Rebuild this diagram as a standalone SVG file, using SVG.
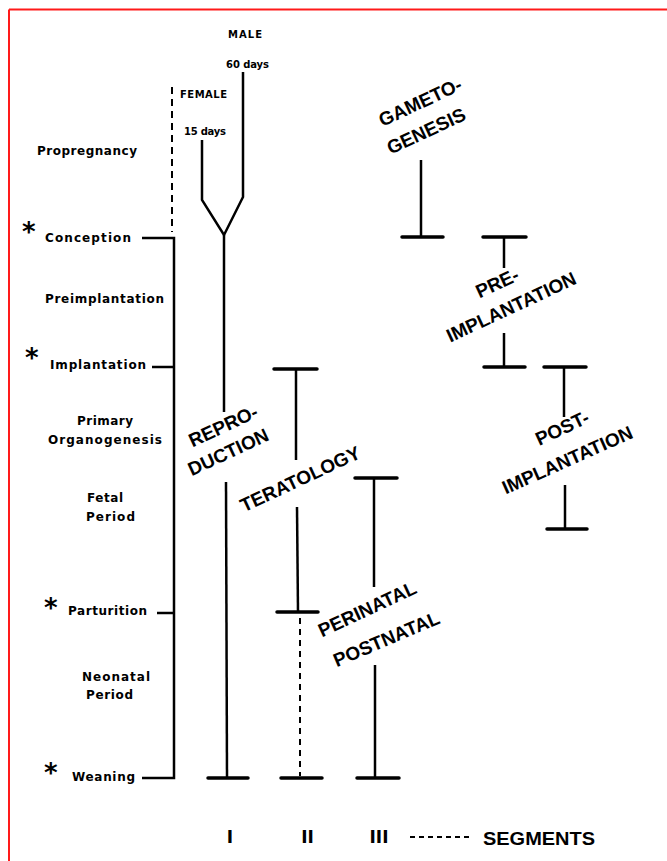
<svg xmlns="http://www.w3.org/2000/svg" width="667" height="861" viewBox="0 0 667 861">
<style>
.ln{stroke:#000;stroke-width:2.5;fill:none;stroke-linecap:butt}
.bar{stroke:#000;stroke-width:3.5;fill:none;stroke-linecap:round}
.dsh{stroke:#000;stroke-width:2;fill:none;stroke-dasharray:7 5}
.s{font-family:"DejaVu Sans",sans-serif;font-weight:bold;font-size:12px;fill:#000}
.t{font-family:"DejaVu Sans",sans-serif;font-weight:bold;font-size:10px;fill:#000}
.big{font-family:"Liberation Sans",Arial,sans-serif;font-weight:bold;font-size:19px;fill:#000}
.ast{font-family:"DejaVu Sans",sans-serif;font-weight:bold;font-size:26px;fill:#000}
.rom{font-family:"DejaVu Sans",sans-serif;font-weight:bold;font-size:17px;fill:#000}
</style>
<rect x="0" y="0" width="667" height="861" fill="#fff"/>
<g id="frame">
<line x1="9" y1="9.5" x2="667" y2="9.5" stroke="#ff1a1a" stroke-width="2"/>
<line x1="9" y1="9.5" x2="9" y2="861" stroke="#ff1a1a" stroke-width="2"/>
</g>
<g id="timeline-labels">
<text class="s" x="37" y="155" textLength="100" lengthAdjust="spacing">Propregnancy</text>
<text class="ast" x="22" y="241">*</text>
<text class="s" x="45" y="242" textLength="86" lengthAdjust="spacing">Conception</text>
<text class="s" x="45" y="303" textLength="119" lengthAdjust="spacing">Preimplantation</text>
<text class="ast" x="25" y="367">*</text>
<text class="s" x="50" y="369" textLength="96" lengthAdjust="spacing">Implantation</text>
<text class="s" x="77" y="425" textLength="56" lengthAdjust="spacing">Primary</text>
<text class="s" x="48" y="444" textLength="114" lengthAdjust="spacing">Organogenesis</text>
<text class="s" x="87" y="502" textLength="36" lengthAdjust="spacing">Fetal</text>
<text class="s" x="86" y="521" textLength="49" lengthAdjust="spacing">Period</text>
<text class="ast" x="44" y="617">*</text>
<text class="s" x="68" y="615" textLength="79" lengthAdjust="spacing">Parturition</text>
<text class="s" x="82" y="681" textLength="68" lengthAdjust="spacing">Neonatal</text>
<text class="s" x="86" y="699" textLength="47" lengthAdjust="spacing">Period</text>
<text class="ast" x="44" y="782">*</text>
<text class="s" x="72" y="781" textLength="63" lengthAdjust="spacing">Weaning</text>
</g>
<g id="connectors">
<line class="dsh" x1="172" y1="87" x2="172" y2="232"/>
<polyline class="ln" points="142,238 174,238 174,778 142,778"/>
<line class="ln" x1="152" y1="367" x2="174" y2="367"/>
<line class="ln" x1="157" y1="613" x2="174" y2="613"/>
<polyline class="ln" points="243,72 243,197 224,235 202,200 202,140"/>
<line class="ln" x1="224" y1="235" x2="224" y2="412"/>
<line class="ln" x1="226" y1="482" x2="227" y2="778"/>
<line class="bar" x1="208" y1="778" x2="248" y2="778"/>
<line class="bar" x1="274" y1="369" x2="317" y2="369"/>
<line class="ln" x1="296" y1="369" x2="296" y2="460"/>
<line class="ln" x1="297" y1="507" x2="298" y2="612"/>
<line class="bar" x1="277" y1="612" x2="318" y2="612"/>
<line class="dsh" x1="300" y1="618" x2="300" y2="776" style="stroke-dasharray:6 5"/>
<line class="bar" x1="281" y1="778" x2="322" y2="778"/>
<line class="bar" x1="355" y1="478" x2="397" y2="478"/>
<line class="ln" x1="374" y1="478" x2="374" y2="587"/>
<line class="ln" x1="375" y1="665" x2="375" y2="778"/>
<line class="bar" x1="357" y1="778" x2="399" y2="778"/>
<line class="ln" x1="421" y1="160" x2="421" y2="237"/>
<line class="bar" x1="402" y1="237" x2="443" y2="237"/>
<line class="bar" x1="483" y1="237" x2="526" y2="237"/>
<line class="ln" x1="504" y1="237" x2="504" y2="268"/>
<line class="ln" x1="504" y1="333" x2="504" y2="367"/>
<line class="bar" x1="484" y1="367" x2="525" y2="367"/>
<line class="bar" x1="544" y1="367" x2="586" y2="367"/>
<line class="ln" x1="564" y1="367" x2="564" y2="417"/>
<line class="ln" x1="565" y1="485" x2="565" y2="529"/>
<line class="bar" x1="547" y1="529" x2="587" y2="529"/>
<line class="dsh" x1="410" y1="837" x2="473" y2="837" style="stroke-dasharray:5 4"/>
</g>
<g id="sex-labels">
<text class="t" x="245" y="38" text-anchor="middle" textLength="34" lengthAdjust="spacing">MALE</text>
<text class="t" x="247.5" y="68" text-anchor="middle" textLength="43" lengthAdjust="spacing">60 days</text>
<text class="t" x="180" y="98" textLength="47" lengthAdjust="spacing">FEMALE</text>
<text class="t" x="184" y="135" textLength="42" lengthAdjust="spacing">15 days</text>
</g>
<g id="node-gametogenesis">
<text class="big" text-anchor="middle" transform="translate(423,108) rotate(-25)">GAMETO-</text>
<text class="big" text-anchor="middle" transform="translate(429,137) rotate(-25)">GENESIS</text>
</g>
<g id="node-preimplantation">
<text class="big" text-anchor="middle" transform="translate(500,289) rotate(-25)">PRE-</text>
<text class="big" text-anchor="middle" transform="translate(514,313) rotate(-25)">IMPLANTATION</text>
</g>
<g id="node-postimplantation">
<text class="big" text-anchor="middle" transform="translate(565,434) rotate(-25)">POST-</text>
<text class="big" text-anchor="middle" transform="translate(570,466) rotate(-24)">IMPLANTATION</text>
</g>
<g id="node-reproduction">
<text class="big" text-anchor="middle" transform="translate(226,432) rotate(-25)">REPRO-</text>
<text class="big" text-anchor="middle" transform="translate(231,458) rotate(-25)">DUCTION</text>
</g>
<g id="node-teratology">
<text class="big" text-anchor="middle" transform="translate(303,485) rotate(-25)">TERATOLOGY</text>
</g>
<g id="node-perinatal">
<text class="big" text-anchor="middle" transform="translate(370,615) rotate(-25)">PERINATAL</text>
<text class="big" text-anchor="middle" transform="translate(389,645) rotate(-23)">POSTNATAL</text>
</g>
<g id="legend">
<text class="rom" x="230" y="843" text-anchor="middle">I</text>
<text class="rom" x="307.5" y="843" text-anchor="middle">II</text>
<text class="rom" x="379" y="843" text-anchor="middle">III</text>
<text class="big" x="483" y="845" font-size="20" textLength="112" lengthAdjust="spacingAndGlyphs">SEGMENTS</text>
</g>
</svg>
